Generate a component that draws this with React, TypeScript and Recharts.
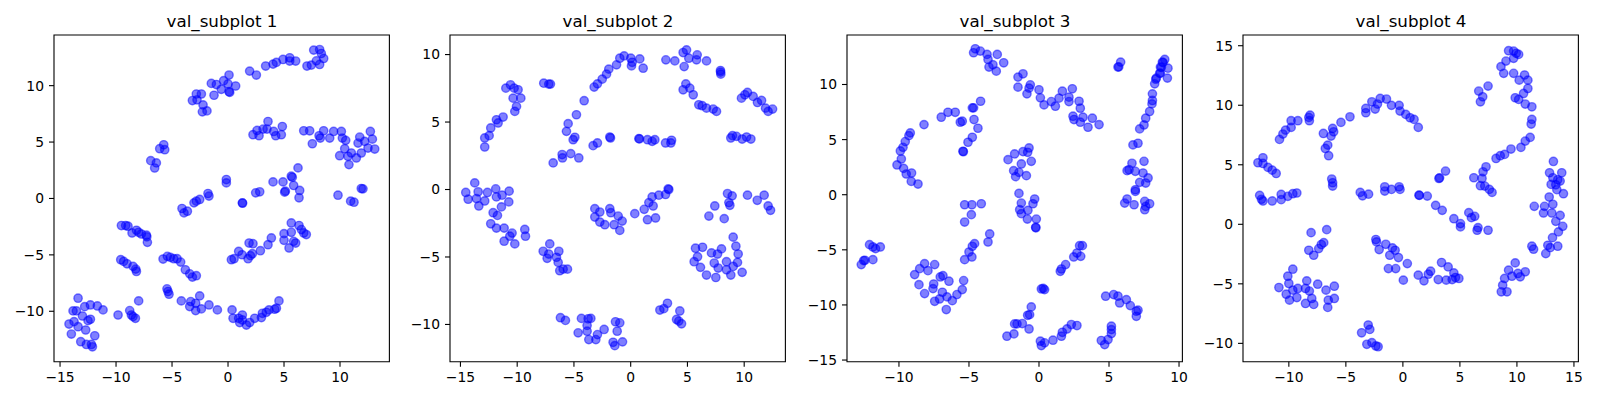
import React from 'react';
import { ScatterChart, Scatter, XAxis, YAxis, ReferenceArea } from 'recharts';

type P = [number, number];

const titles = ['val_subplot 1', 'val_subplot 2', 'val_subplot 3', 'val_subplot 4'];

const s1Points: P[] = [
  [-3.18,8.68],[-2.83,9.26],[-2.38,9.26],[-2.77,8.74],[-2.23,8.29],[-2.29,7.68],[-1.88,7.76],[-1.49,10.2],[-1.04,10.1],[-1.25,9.15],[-0.6,9.68],[-0.39,10.44],[0.0,10.15],[0.09,10.94],[0.09,9.47],[0.15,9.4],[0.68,9.97],[1.93,11.29],[2.53,10.94],[3.36,11.74],[4.02,11.91],[4.32,12.06],[4.91,12.32],[5.51,12.18],[5.51,12.47],[6.04,12.18],[7.05,11.74],[7.44,11.82],[7.65,13.15],[8.18,13.2],[8.33,12.85],[7.89,12.2],[8.18,11.88],[8.54,12.41],
  [-6.9,3.35],[-6.55,2.7],[-6.4,3.15],[-6.1,4.41],[-5.74,4.76],[-5.65,4.32],
  [2.23,5.65],[2.59,6.03],[2.77,5.56],[3.13,6.15],[3.57,6.82],[3.48,6.15],[4.08,5.94],[4.26,5.56],[4.76,5.65],[4.85,6.38],
  [6.76,6.0],[7.29,6.0],[7.53,4.85],[8.13,5.56],[8.24,5.35],[8.54,6.0],[9.08,5.35],[9.43,5.94],[10.12,5.94],[10.21,5.35],[10.51,5.15],[10.42,4.41],[9.97,3.79],[10.8,3.0],[10.71,3.74],[11.01,4.03],[11.46,3.59],[11.61,4.91],[11.76,5.44],[11.9,4.03],[12.2,5.06],[12.71,5.94],[12.89,5.26],[12.5,4.47],[13.1,4.38],
  [-0.15,1.68],[-0.15,1.38],[2.47,0.5],[2.83,0.59],[4.02,1.47],[4.91,1.47],[5.65,1.97],[5.74,1.88],[5.86,1.15],[6.25,2.71],[6.4,0.71],[5.06,0.56],[5.12,0.65],[-1.79,0.44],[11.9,0.88],[12.05,0.85],[9.82,0.29],[6.34,0.06],[10.95,-0.24],[11.25,-0.33],[1.28,-0.39],[1.3,-0.42],[-4.11,-0.89],[-3.93,-1.28],[-3.63,-1.13],[-3.04,-0.39],[-2.83,-0.24],[-2.53,-0.09],[-1.7,0.21],
  [-9.52,-2.4],[-9.14,-2.4],[-8.93,-2.46],[-8.57,-3.06],[-8.18,-2.82],[-7.98,-3.0],[-7.74,-3.15],[-7.29,-3.26],[-7.2,-3.89],[-7.25,-3.4],
  [-9.58,-5.43],[-9.32,-5.58],[-9.02,-5.79],[-8.48,-6.02],[-8.24,-6.26],[-8.18,-6.47],
  [-5.8,-5.37],[-5.42,-5.13],[-5.15,-5.22],[-4.85,-5.34],[-4.55,-5.34],[-4.23,-5.64],[-3.81,-6.32],[-3.42,-6.68],[-3.18,-6.97],[-2.83,-6.85],
  [-5.45,-8.01],[-5.36,-8.25],[-5.27,-8.49],[-4.17,-9.08],[-3.42,-9.58],[-3.33,-9.14],[-2.89,-9.29],[-2.89,-9.94],[-2.53,-8.64],[-2.38,-9.79],[-1.7,-9.44],[-0.95,-9.88],
  [0.36,-9.88],[0.45,-10.62],[0.95,-10.62],[1.04,-11.0],[1.28,-10.33],[1.28,-10.77],[1.64,-11.22],[1.93,-11.0],[2.38,-10.62],[2.98,-10.56],[3.07,-10.18],[3.42,-10.09],[3.66,-9.88],[4.17,-9.82],[4.32,-9.73],[4.55,-9.08],
  [-14.2,-11.13],[-13.99,-12.02],[-13.84,-9.97],[-13.75,-10.92],[-13.54,-9.97],[-13.39,-8.84],[-13.39,-11.37],[-13.15,-12.7],[-13.0,-10.42],[-12.8,-9.59],[-12.71,-11.66],[-12.65,-12.94],[-12.5,-10.83],[-12.29,-9.44],[-12.29,-10.71],[-12.2,-12.94],[-12.11,-13.15],[-11.9,-12.17],[-11.67,-9.53],[-11.16,-9.88],[-9.82,-10.33],[-8.78,-9.94],[-8.63,-10.33],[-8.48,-10.47],[-8.27,-10.62],[-7.98,-9.08],
  [0.3,-5.43],[0.54,-5.34],[0.95,-4.69],[1.25,-4.99],[1.79,-5.34],[2.0,-5.07],[2.17,-4.9],[1.88,-3.95],[2.23,-4.01],[2.89,-4.63],[3.57,-4.1],[3.87,-3.5],[5.0,-3.12],[5.0,-3.71],[5.45,-4.39],[5.65,-2.17],[5.65,-3.0],[5.86,-3.8],[6.04,-3.95],[6.34,-2.4],[6.55,-2.76],[6.76,-3.06],[6.99,-3.2],
];

const s2Points: P[] = [
  [-12.86,3.15],[-12.86,3.82],[-12.47,3.99],[-12.33,4.56],[-11.83,5.17],[-11.68,4.93],[-11.24,5.37],[-11.0,7.51],[-10.59,7.76],[-10.27,7.51],[-9.92,7.39],[-10.36,6.77],[-9.68,6.77],[-10.06,6.16],[-10.21,5.79],
  [-7.66,7.88],[-7.22,7.81],[-7.07,7.81],
  [-4.1,6.58],[-4.78,5.54],[-5.51,4.88],[-5.66,4.31],[-5.07,3.69],[-4.92,3.87],[-6.83,1.97],[-6.04,2.59],[-6.01,2.34],[-5.28,2.66],[-4.57,2.34],[-3.31,3.25],[-2.93,3.45],[-1.84,3.89],[-1.78,3.82],
  [-3.22,7.59],[-2.93,7.83],[-2.51,8.18],[-2.13,8.55],[-1.93,8.92],[-1.25,9.24],[-0.96,9.73],[-0.58,9.9],[0.01,9.73],[0.07,9.16],[0.13,9.43],[0.8,9.68],[1.1,8.99],
  [0.72,3.77],[0.78,3.75],[1.48,3.69],[1.89,3.57],[2.13,3.69],[3.07,3.45],[3.54,3.45],[3.6,3.65],
  [3.1,9.61],[3.89,9.53],[4.62,10.15],[4.92,10.34],[4.71,9.11],[5.12,9.73],[5.86,9.98],[5.8,9.61],[6.68,9.53],[7.91,8.82],[7.94,8.55],[7.92,8.7],
  [4.62,7.39],[4.86,7.83],[5.21,7.51],[5.51,7.02],[6.0,6.28],[6.3,6.21],[6.68,6.03],[7.27,5.96],[7.56,5.79],
  [9.76,6.77],[10.06,7.02],[10.29,7.19],[10.79,6.9],[11.17,6.45],[11.53,6.6],[11.88,6.03],[12.11,5.79],[12.5,5.96],
  [8.82,3.82],[8.97,3.99],[9.32,3.94],[9.82,3.74],[10.21,3.89],[10.59,3.74],
  [3.3,0.05],[3.36,0.0],
  [-14.53,-0.22],[-14.32,-0.72],[-13.74,0.49],[-13.59,-0.67],[-13.44,-0.17],[-13.38,-1.22],[-12.86,-0.85],[-12.62,-0.22],[-11.89,0.05],[-11.83,-0.55],[-11.33,-0.42],[-11.39,-1.29],[-10.71,-0.12],[-10.74,-0.92],[-12.12,-1.72],[-11.74,-1.92],[-12.33,-2.54],[-11.83,-2.86],[-11.15,-2.86],[-11.15,-3.83],[-10.65,-3.46],[-10.45,-3.23],[-10.21,-4.03],[-9.33,-2.96],[-9.27,-3.46],
  [-7.71,-4.58],[-7.36,-5.1],[-7.13,-4.03],[-7.22,-4.78],[-6.54,-5.02],[-6.33,-4.58],[-6.39,-5.4],[-6.25,-6.02],[-5.95,-5.9],[-5.57,-5.9],
  [-3.16,-1.42],[-2.72,-1.67],[-3.16,-2.04],[-2.72,-2.41],[-2.28,-2.61],[-1.84,-1.42],[-1.75,-1.72],[-1.46,-2.61],[-1.1,-1.97],[-0.75,-2.34],[-0.96,-3.03],
  [0.36,-1.79],[1.19,-1.47],[1.48,-2.24],[1.6,-0.97],[1.89,-0.55],[1.98,-1.22],[2.19,-2.11],[2.48,-0.42],[3.07,-0.37],
  [-6.19,-9.5],[-5.75,-9.7],[-4.63,-10.62],[-4.34,-9.55],[-3.84,-10.07],[-3.84,-10.5],[-3.75,-9.58],[-3.69,-11.12],[-3.51,-9.55],[-3.07,-11.12],[-2.93,-10.75],[-2.34,-10.37],[-1.55,-11.32],[-1.4,-11.57],[-1.34,-9.8],[-1.19,-10.5],[-0.96,-9.88],[-0.72,-11.29],
  [2.57,-8.93],[2.92,-8.83],[3.24,-8.43],[4.04,-9.63],[4.24,-9.75],[4.33,-9.0],[4.48,-9.95],
  [5.59,-5.35],[5.71,-4.35],[5.89,-4.98],[6.15,-5.77],[6.33,-4.28],[6.68,-6.34],[7.12,-4.7],[7.36,-5.45],[7.5,-6.52],[7.65,-4.78],[7.71,-5.82],[8.0,-4.4],[8.44,-5.35],[8.44,-5.95],[8.82,-6.34],[9.03,-3.53],[9.03,-5.7],[9.27,-4.2],[9.41,-5.4],[9.47,-4.78],[9.82,-6.14],
  [6.89,-1.97],[7.41,-1.22],[8.24,-2.16],[8.53,-0.3],[8.65,-0.97],[8.74,-1.17],[8.94,-0.47],[10.29,-0.42],[11.15,-0.8],[11.76,-0.42],[12.11,-1.22],[12.32,-1.54],
];

const s3Points: P[] = [
  [-10.14,2.7],[-9.83,3.24],[-9.9,3.97],[-9.71,4.3],[-9.55,4.82],[-9.29,5.36],[-9.19,5.61],[-9.67,2.39],[-9.48,1.88],[-9.1,1.97],[-9.12,1.21],[-8.64,0.97],[-8.21,6.36],
  [-6.98,7.03],[-6.5,7.48],[-5.98,7.48],[-5.62,6.58],[-5.48,6.67],[-5.43,3.94],[-5.4,3.9],[-4.76,7.88],[-4.67,7.88],[-4.64,6.82],[-4.36,6.03],[-4.17,8.48],[-4.76,5.21],[-5.07,4.76],
  [-4.67,12.88],[-4.55,13.24],[-4.19,13.03],[-3.71,12.73],[-3.64,12.27],[-3.57,11.58],[-3.29,11.79],[-3.05,11.21],[-2.98,12.73],[-2.52,11.97],
  [-1.5,10.67],[-1.14,10.97],[-1.5,9.76],[-0.86,9.15],[-0.71,9.67],[-0.62,9.97],[0.0,9.52],[0.1,8.79],[0.36,8.15],[0.88,8.45],[1.17,8.03],[1.43,8.76],[1.67,9.39],[2.14,8.85],[2.14,8.45],[2.38,9.61],[2.86,8.48],[2.95,7.85],[2.43,7.12],[2.5,6.82],[2.95,6.58],[3.14,7.03],[3.5,6.12],[3.81,6.94],[4.29,6.36],
  [5.64,11.58],[5.83,12.03],[5.7,11.6],[7.19,5.97],[7.5,6.33],[7.62,6.94],[7.9,7.55],[8.07,8.24],[8.1,8.55],[8.1,9.15],[8.26,10.06],[8.38,10.58],[8.67,11.03],[8.67,11.58],[8.81,12.03],[8.98,12.27],[9.17,10.58],[9.21,11.48],[8.86,11.99],[8.74,11.56],[8.62,11.02],[8.34,10.48],[6.71,4.52],[7.07,4.67],
  [-2.21,3.18],[-1.74,3.7],[-1.81,2.18],[-1.26,2.79],[-1.43,2.03],[-1.67,1.64],[-0.9,1.73],[-1.14,3.91],[-0.81,3.85],[-0.71,4.24],[-0.55,3.03],[-1.43,0.12],
  [6.29,2.18],[6.43,2.27],[6.64,2.85],[6.88,2.12],[7.5,3.03],[7.43,1.97],[7.79,1.52],[7.19,1.12],[6.88,0.45],[7.62,1.06],[6.88,0.3],[6.12,-0.76],[6.29,-0.39],[6.79,-0.91],[7.55,-0.6],[7.55,-1.36],[7.62,-1.06],[7.9,-0.82],
  [-1.26,-0.76],[-1.38,-1.36],[-1.26,-1.72],[-0.79,-1.42],[-0.83,-2.21],[-0.43,-0.82],[-0.31,-0.39],[-0.19,-2.21],[-0.24,-2.96],[-0.22,-3.0],
  [-5.31,-0.91],[-4.79,-0.91],[-4.12,-0.82],[-4.83,-1.81],[-5.31,-2.48],
  [-3.52,-3.56],[-3.64,-4.29],[-4.6,-4.44],[-4.76,-4.68],[-5.0,-5.2],[-4.79,-5.65],[-5.31,-5.89],
  [-12.69,-6.34],[-12.52,-5.98],[-12.43,-5.95],[-12.1,-4.53],[-11.86,-4.74],[-11.67,-4.89],[-11.86,-5.89],[-11.33,-4.74],
  [-8.88,-7.25],[-8.52,-6.71],[-8.17,-6.25],[-7.93,-6.89],[-7.45,-6.34],[-8.57,-8.16],[-8.17,-8.97],[-7.57,-8.52],[-7.52,-8.1],[-7.45,-9.67],[-7.05,-7.46],[-6.86,-7.34],[-6.43,-7.85],[-6.9,-8.85],[-7.1,-9.46],[-6.57,-9.27],[-6.62,-10.42],[-6.19,-9.61],[-5.86,-9.06],[-5.48,-8.61],[-5.38,-7.79],
  [0.17,-8.55],[0.4,-8.61],[0.3,-8.5],
  [-2.29,-12.84],[-1.79,-12.63],[-1.74,-11.72],[-1.57,-11.72],[-1.19,-11.69],[-0.71,-12.18],[-0.81,-10.94],[-0.67,-10.88],[-0.55,-10.18],
  [0.1,-13.29],[0.17,-13.69],[0.4,-13.44],[1.0,-13.2],[1.6,-12.84],[1.67,-12.48],[2.0,-12.18],[2.31,-11.78],[2.71,-11.87],
  [1.52,-6.95],[1.6,-6.74],[1.9,-6.34],[2.48,-5.65],[2.71,-5.29],[2.9,-4.62],[3.1,-4.62],[2.98,-5.59],
  [4.76,-9.21],[5.33,-9.06],[5.64,-9.21],[5.76,-9.82],[6.24,-9.52],[6.52,-10.06],[6.95,-10.57],[7.07,-10.48],[6.95,-11.03],[5.17,-11.93],[5.17,-12.24],[5.17,-12.6],[4.93,-13.14],[4.45,-13.23],[4.69,-13.6],
];

const s4Points: P[] = [
  [-12.71,5.17],[-12.27,5.59],[-12.27,5.11],[-11.83,4.78],[-11.46,4.55],[-11.11,4.27],[-10.82,7.13],[-10.52,7.58],[-10.29,7.91],[-9.8,8.14],[-9.8,8.7],[-9.21,8.7],[-8.25,8.98],[-8.2,8.7],[-8.14,9.17],
  [-6.97,7.63],[-6.8,6.37],[-6.59,6.65],[-6.51,5.76],[-6.3,7.41],[-6.16,8.05],[-6.07,7.77],[-5.43,8.56],[-4.64,9.03],[-6.24,3.8],[-6.16,3.49],[-6.16,3.21],
  [-3.25,9.73],[-3.25,9.37],[-2.72,10.29],[-2.43,9.68],[-2.23,10.1],[-1.99,10.57],[-1.44,10.52],[-1.0,9.99],[-0.33,9.99],[-0.25,9.51],[0.25,9.23],[0.63,8.95],[0.98,8.81],[1.35,8.14],
  [3.16,3.85],[3.22,3.9],[3.74,4.47],
  [6.22,3.91],[6.8,3.24],[6.94,3.85],[7.03,4.41],[7.29,4.83],[7.18,3.21],[7.58,2.93],[7.82,2.68],[6.65,11.19],[7.0,10.71],[6.8,10.29],[7.47,11.61],
  [8.17,5.53],[8.54,5.76],[8.92,5.87],[9.48,6.32],[10.35,6.46],[10.73,6.99],[11.16,7.3],[11.25,8.42],[11.31,8.81],[8.6,13.24],[8.84,12.68],[9.04,13.71],[9.27,14.58],[9.71,14.55],[9.94,14.36],[10.15,14.27],[9.71,13.94],[9.71,12.68],[9.85,10.63],[10.15,10.49],[10.2,12.11],[10.67,12.54],[10.96,12.11],[10.96,11.41],[10.58,10.99],[10.73,10.1],[11.31,9.87],
  [-12.56,2.43],[-12.4,2.1],[-12.27,1.96],[-11.46,1.96],[-10.67,2.07],[-10.67,2.51],[-10.09,2.35],[-9.65,2.57],[-9.3,2.63],
  [-3.74,2.68],[-3.54,2.39],[-3.01,2.53],[-1.59,3.15],[-1.59,2.79],[-1.0,2.93],[-0.33,3.15],[-0.25,2.93],[1.41,2.45],[1.45,2.43],[2.14,2.37],
  [2.87,1.59],[3.45,1.17],[4.47,0.47],[5.05,0.06],[5.05,-0.22],[5.78,0.98],[6.01,0.56],[6.3,0.67],[6.51,-0.5],[6.59,-0.28],[7.47,-0.5],
  [-8.05,-0.7],[-6.68,-0.45],[-8.25,-2.18],[-7.82,-2.6],[-7.38,-2.04],[-7.15,-1.7],[-6.94,-1.54],
  [-9.65,-3.77],[-10.09,-4.36],[-10.0,-4.97],[-10.87,-5.31],[-10.23,-5.87],[-9.94,-6.37],[-9.65,-5.53],[-9.21,-5.39],[-9.3,-6.15],[-8.54,-6.65],[-8.54,-5.39],[-8.43,-4.75],[-8.2,-5.61],[-7.99,-6.23],[-7.82,-6.73],[-7.47,-5.03],[-6.74,-5.53],[-6.54,-6.37],[-6.59,-6.98],[-6.01,-5.2],[-6.01,-6.23],
  [-3.62,-9.11],[-3.04,-8.46],[-2.9,-8.83],[-3.16,-10.08],[-2.72,-9.94],[-2.37,-10.22],[-2.17,-10.28],
  [-2.37,-1.28],[-2.31,-1.48],[-2.08,-2.12],[-1.5,-1.68],[-1.15,-2.6],[-0.92,-1.98],[-0.68,-2.18],[-1.27,-3.72],[-0.63,-3.72],[-0.39,-2.79],[0.04,-4.69],[0.39,-3.3],
  [1.35,-4.27],[1.85,-4.75],[2.23,-4.19],[2.43,-3.94],[3.1,-4.64],[3.39,-3.21],[3.8,-4.69],[3.97,-3.58],[4.32,-4.64],[4.47,-4.08],[4.61,-4.47],[4.91,-4.55],
  [8.63,-5.67],[9.13,-5.67],[8.75,-5.11],[8.92,-4.55],[9.27,-3.85],[9.56,-4.36],[9.85,-3.24],[10.09,-4.13],[10.29,-4.41],[10.73,-3.99],
  [11.31,-1.84],[11.46,-2.09],
  [13.2,5.28],[12.86,4.33],[13.93,4.33],[13.15,3.91],[13.58,3.74],[13.79,3.63],[13.0,3.35],[13.41,3.32],[13.5,2.91],[14.08,2.57],[12.83,2.29],[13.15,1.68],[12.42,1.51],[11.52,1.51],[12.33,0.95],[13.06,0.95],[13.79,0.75],[13.41,0.25],[14.02,-0.17],[13.64,-0.64],[13.12,-1.12],[12.71,-1.76],[12.92,-1.96],[13.58,-1.84],[12.53,-2.46],
];

const s1XTicks = [-15, -10, -5, 0, 5, 10];
const s1YTicks = [-10, -5, 0, 5, 10];
const s2XTicks = [-15, -10, -5, 0, 5, 10];
const s2YTicks = [-10, -5, 0, 5, 10];
const s3XTicks = [-10, -5, 0, 5, 10];
const s3YTicks = [-15, -10, -5, 0, 5, 10];
const s4XTicks = [-10, -5, 0, 5, 10, 15];
const s4YTicks = [-10, -5, 0, 5, 10, 15];

const s1XDomain: [number, number] = [-15.54, 14.41];
const s1YDomain: [number, number] = [-14.47, 14.49];
const s2XDomain: [number, number] = [-15.92, 13.63];
const s2YDomain: [number, number] = [-12.76, 11.45];
const s3XDomain: [number, number] = [-13.71, 10.24];
const s3YDomain: [number, number] = [-15.15, 14.49];
const s4XDomain: [number, number] = [-14.02, 15.39];
const s4YDomain: [number, number] = [-11.54, 15.9];

const PLOT_W = 335.4;
const PLOT_H = 326.7;
const PLOT_TOP = 35;
const Y_AXIS_W = 45;
const RIGHT_PAD = 5;
const CHART_H = 400;
const FONT = "'DejaVu Sans', sans-serif";

const fmt = (v: number) => String(v).replace('-', '\u2212');

const Dot = (props: any) => {
  const { cx, cy } = props;
  if (cx == null || cy == null) return null;
  return (
    <circle
      cx={cx}
      cy={cy}
      r={4.17}
      fill="#0000ff"
      fillOpacity={0.5}
      stroke="#0000ff"
      strokeOpacity={0.5}
      strokeWidth={1.39}
    />
  );
};

interface SubProps {
  title: string;
  points: P[];
  xDomain: [number, number];
  yDomain: [number, number];
  xTicks: number[];
  yTicks: number[];
  left: number;
}

const Subplot = ({ title, points, xDomain, yDomain, xTicks, yTicks, left }: SubProps) => {
  const data = points.map(([x, y]) => ({ x, y }));
  const tickStyle = { fill: '#000', fontSize: 13.9, fontFamily: FONT };
  return (
    <>
      <div
        style={{
          position: 'absolute',
          left,
          top: 13,
          width: PLOT_W,
          textAlign: 'center',
          fontFamily: FONT,
          fontSize: 16.7,
          lineHeight: '16.7px',
          color: '#000',
          whiteSpace: 'nowrap',
        }}
      >
        {title}
      </div>
      <div style={{ position: 'absolute', left: left - Y_AXIS_W, top: 0 }}>
        <ScatterChart
          width={Y_AXIS_W + PLOT_W + RIGHT_PAD}
          height={CHART_H}
          margin={{ top: PLOT_TOP, right: RIGHT_PAD, left: 0, bottom: 0 }}
        >
          <XAxis
            type="number"
            dataKey="x"
            domain={xDomain}
            allowDataOverflow
            ticks={xTicks}
            interval={0}
            height={CHART_H - PLOT_TOP - PLOT_H}
            axisLine={false}
            tickLine={{ stroke: '#000', strokeWidth: 1.1 }}
            tickSize={5}
            tickMargin={5}
            tick={tickStyle}
            tickFormatter={fmt}
          />
          <YAxis
            type="number"
            dataKey="y"
            domain={yDomain}
            allowDataOverflow
            ticks={yTicks}
            interval={0}
            width={Y_AXIS_W}
            axisLine={false}
            tickLine={{ stroke: '#000', strokeWidth: 1.1 }}
            tickSize={5}
            tickMargin={5}
            tick={tickStyle}
            tickFormatter={fmt}
          />
          <Scatter data={data} shape={Dot} isAnimationActive={false} />
          <ReferenceArea
            x1={xDomain[0]}
            x2={xDomain[1]}
            y1={yDomain[0]}
            y2={yDomain[1]}
            fill="none"
            fillOpacity={0}
            stroke="#000"
            strokeWidth={1.1}
            strokeOpacity={1}
            ifOverflow="visible"
          />
        </ScatterChart>
      </div>
    </>
  );
};

const lefts = [54.3, 450.3, 847.3, 1243.3];

export default function App() {
  return (
    <div
      style={{
        position: 'absolute',
        left: 0,
        top: 0,
        width: 1600,
        height: 400,
        background: '#fff',
        overflow: 'hidden',
      }}
    >
      <Subplot title={titles[0]} points={s1Points} xDomain={s1XDomain} yDomain={s1YDomain} xTicks={s1XTicks} yTicks={s1YTicks} left={lefts[0]} />
      <Subplot title={titles[1]} points={s2Points} xDomain={s2XDomain} yDomain={s2YDomain} xTicks={s2XTicks} yTicks={s2YTicks} left={lefts[1]} />
      <Subplot title={titles[2]} points={s3Points} xDomain={s3XDomain} yDomain={s3YDomain} xTicks={s3XTicks} yTicks={s3YTicks} left={lefts[2]} />
      <Subplot title={titles[3]} points={s4Points} xDomain={s4XDomain} yDomain={s4YDomain} xTicks={s4XTicks} yTicks={s4YTicks} left={lefts[3]} />
    </div>
  );
}
